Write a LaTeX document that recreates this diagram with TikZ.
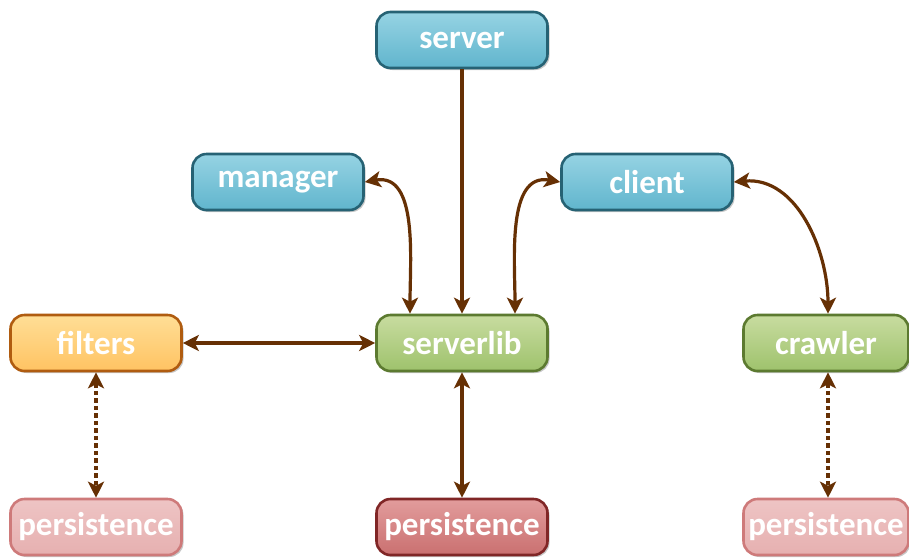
\documentclass[tikz,border=0pt]{standalone}
\usepackage{fontspec}
\setmainfont{Carlito}
\usetikzlibrary{arrows.meta,shadows}

% palette
\definecolor{linkbrown}{RGB}{102,48,4}
\definecolor{blueTop}{RGB}{150,211,227}
\definecolor{blueBot}{RGB}{96,181,205}
\definecolor{blueLine}{RGB}{38,98,116}
\definecolor{greenTop}{RGB}{200,220,160}
\definecolor{greenBot}{RGB}{158,194,108}
\definecolor{greenLine}{RGB}{92,122,48}
\definecolor{orangeTop}{RGB}{255,222,150}
\definecolor{orangeBot}{RGB}{255,195,98}
\definecolor{orangeLine}{RGB}{176,92,16}
\definecolor{pinkTop}{RGB}{238,196,196}
\definecolor{pinkBot}{RGB}{230,176,176}
\definecolor{pinkLine}{RGB}{206,122,122}
\definecolor{redTop}{RGB}{226,156,156}
\definecolor{redBot}{RGB}{202,112,112}
\definecolor{redLine}{RGB}{128,38,38}

\tikzset{
  module/.style={rounded corners=14pt, minimum width=171pt, minimum height=56pt,
    line width=2.6pt, inner sep=0pt, text=white,
    font=\fontsize{33}{33}\selectfont\bfseries,
    drop shadow={shadow xshift=2pt, shadow yshift=-2pt, opacity=0.22, fill=black}},
  bluebox/.style={module, draw=blueLine, top color=blueTop, bottom color=blueBot},
  greenbox/.style={module, draw=greenLine, top color=greenTop, bottom color=greenBot},
  orangebox/.style={module, draw=orangeLine, top color=orangeTop, bottom color=orangeBot},
  pinkbox/.style={module, draw=pinkLine, top color=pinkTop, bottom color=pinkBot},
  redbox/.style={module, draw=redLine, top color=redTop, bottom color=redBot},
  headtip/.tip={Stealth[length=16pt,width=16pt,inset=4pt]},
  link/.style={draw=linkbrown, line width=3.2pt},
  onelink/.style={link, -headtip},
  twolink/.style={link, headtip-headtip},
  weaklink/.style={twolink, dash pattern=on 4.5pt off 3pt},
}

\begin{document}
\begin{tikzpicture}[x=1pt, y=-1pt]
\path[use as bounding box] (0,0) rectangle (909,558);

% modules
\node[bluebox]   (server)    at (462,40)  {server};
\node[bluebox]   (manager)   at (278,182) {manager};
\node[bluebox]   (client)    at (647,182) {client};
\node[orangebox] (filters)   at (96,343)  {filters};
\node[greenbox]  (serverlib) at (462,343) {serverlib};
\node[greenbox, minimum width=165pt] (crawler) at (826,343) {crawler};
\node[pinkbox]   (persistL)  at (96,527)  {persistence};
\node[redbox]    (persistM)  at (462,527) {persistence};
\node[pinkbox, minimum width=165pt] (persistR) at (826,527) {persistence};

% dependencies
\draw[onelink] (server.south) -- (serverlib.north);
\draw[twolink] (manager.east) to[out=10,in=90] ([xshift=-52pt]serverlib.north);
\draw[twolink] (client.west) to[out=170,in=90] ([xshift=53pt]serverlib.north);
\draw[twolink] (client.east) to[out=5,in=90] ([xshift=2pt]crawler.north);
\draw[twolink] (filters.east) -- (serverlib.west);
\draw[twolink] (serverlib.south) -- (persistM.north);
\draw[weaklink] (filters.south) -- (persistL.north);
\draw[weaklink] ([xshift=2pt]crawler.south) -- ([xshift=2pt]persistR.north);
\end{tikzpicture}
\end{document}
